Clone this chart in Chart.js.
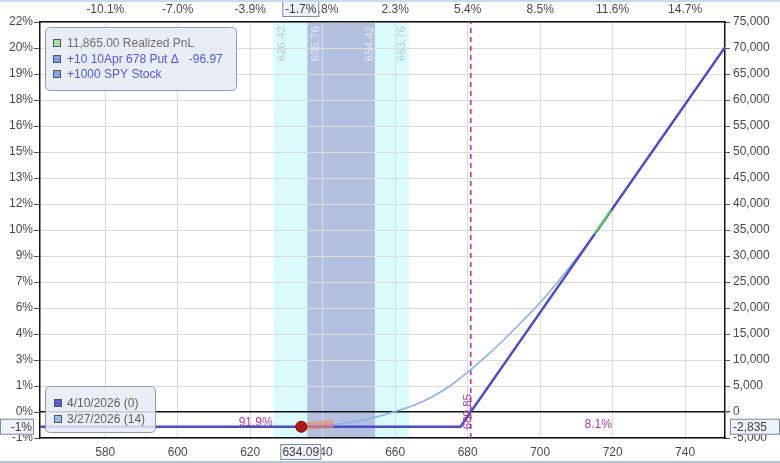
<!DOCTYPE html>
<html>
<head>
<meta charset="utf-8">
<script src="https://cdn.jsdelivr.net/npm/chart.js@4.4.1/dist/chart.umd.min.js"></script>
<style>
html, body { margin: 0; padding: 0; background: #fff; }
#wrap { width: 780px; height: 463px; position: relative; }
</style>
</head>
<body>
<div id="wrap"><canvas id="chart" width="780" height="463"></canvas></div>
<script>
// price axis
const xMin = 562, xMax = 751;
const xTicks = [580, 600, 620, 640, 660, 680, 700, 720, 740];
const topPctLabels = ['-10.1%', '-7.0%', '-3.9%', '-0.8%', '2.3%', '5.4%', '8.5%', '11.6%', '14.7%'];

// pnl axis (-5,000 .. 75,000), left labels are % of capital
const yMin = -5000, yMax = 75000, yStep = 5000;
const leftPctLabels = ['-1%', '0%', '1%', '3%', '4%', '6%', '7%', '9%', '10%', '12%', '13%', '15%', '16%', '18%', '19%', '20%', '22%'];

// 4/10/2026 (0) - expiration
const expPrice = [562, 678, 751];
const expPnl = [-2835, -2835, 70165];

// 3/27/2026 (14)
const t14Price = [562, 600, 620, 630, 635, 640, 645, 650, 655, 660, 665, 670, 675, 680, 685, 690, 695, 700, 705, 710, 715, 720, 730, 740, 751];
const t14Pnl = [-2835, -2835, -2835, -2830, -2780, -2600, -2250, -1700, -900, 100, 1250, 2850, 4950, 7650, 10650, 13900, 17400, 21050, 25150, 29550, 34250, 39230, 49220, 59200, 70190];

// little green realized piece
const greenPrice = [715, 719.5];
const greenPnl = [34300, 38800];

// current position
const currentPrice = 634.09;
const currentPnl = -2835;
const currentPctTop = '-1.7%';
const currentPctLeft = '-1%';
const currentPnlText = '-2,835';
const movePrice = [634.09, 643];
const movePnl = [-2835, -2250];

// std dev bands
const bandOuter = [626.42, 663.76];
const bandInner = [635.76, 654.42];
const breakeven = 680.85;
const probLeft = '91.9%', probLeftAt = 621.5;
const probRight = '8.1%', probRightAt = 716;

const FONT = "'Liberation Sans', Arial, sans-serif";

function pts(xs, ys) {
    return xs.map((x, i) => ({ x: x, y: ys[i] }));
}

function box(ctx, x, y, w, h, text, align) {
    ctx.fillStyle = '#eef3fa';
    ctx.fillRect(x, y, w, h);
    ctx.strokeStyle = '#7d8ca3';
    ctx.lineWidth = 1;
    ctx.strokeRect(x + 0.5, y + 0.5, w - 1, h - 1);
    ctx.fillStyle = '#404040';
    ctx.font = '12px ' + FONT;
    ctx.textBaseline = 'middle';
    ctx.textAlign = align || 'center';
    var tx = align === 'right' ? x + w - 2 : (align === 'left' ? x + 3 : x + w / 2);
    ctx.fillText(text, tx, y + h / 2 + 1);
}

function roundRect(ctx, x, y, w, h, r) {
    ctx.beginPath();
    ctx.moveTo(x + r, y);
    ctx.lineTo(x + w - r, y);
    ctx.quadraticCurveTo(x + w, y, x + w, y + r);
    ctx.lineTo(x + w, y + h - r);
    ctx.quadraticCurveTo(x + w, y + h, x + w - r, y + h);
    ctx.lineTo(x + r, y + h);
    ctx.quadraticCurveTo(x, y + h, x, y + h - r);
    ctx.lineTo(x, y + r);
    ctx.quadraticCurveTo(x, y, x + r, y);
    ctx.closePath();
}

function vText(ctx, text, cx, top, color) {
    ctx.save();
    ctx.translate(cx, top);
    ctx.rotate(-Math.PI / 2);
    ctx.fillStyle = color;
    ctx.font = '11.5px ' + FONT;
    ctx.textAlign = 'right';
    ctx.textBaseline = 'middle';
    ctx.fillText(text, 0, 0);
    ctx.restore();
}

// Bands behind the grid
const bandsPlugin = {
    id: 'bands',
    beforeDraw(chart) {
        const ctx = chart.ctx, a = chart.chartArea, x = chart.scales.x;
        ctx.save();
        ctx.fillStyle = '#fff';
        ctx.fillRect(0, 0, chart.width, chart.height);
        ctx.fillStyle = '#d9fbfb';
        var x1 = x.getPixelForValue(bandOuter[0]), x2 = x.getPixelForValue(bandOuter[1]);
        ctx.fillRect(x1, a.top, x2 - x1, a.bottom - a.top);
        ctx.fillStyle = '#b3c0de';
        x1 = x.getPixelForValue(bandInner[0]); x2 = x.getPixelForValue(bandInner[1]);
        ctx.fillRect(x1, a.top, x2 - x1, a.bottom - a.top);
        ctx.restore();
    }
};

// Texts, boxes and legends on top
const overlayPlugin = {
    id: 'overlay',
    afterDraw(chart) {
        const ctx = chart.ctx, a = chart.chartArea, x = chart.scales.x, y = chart.scales.y;
        ctx.save();

        // band labels
        vText(ctx, bandOuter[0].toFixed(2), x.getPixelForValue(bandOuter[0]) + 8, a.top + 4, '#b0d0dc');
        vText(ctx, bandInner[0].toFixed(2), x.getPixelForValue(bandInner[0]) + 8, a.top + 4, '#e2e8f4');
        vText(ctx, bandInner[1].toFixed(2), x.getPixelForValue(bandInner[1]) - 5, a.top + 4, '#e2e8f4');
        vText(ctx, bandOuter[1].toFixed(2), x.getPixelForValue(bandOuter[1]) - 7, a.top + 4, '#b0d0dc');

        // breakeven label
        vText(ctx, breakeven.toFixed(2), x.getPixelForValue(breakeven) - 3, a.bottom - 44, '#a83aa8');

        // probabilities
        ctx.font = '12px ' + FONT;
        ctx.fillStyle = '#a83aa8';
        ctx.textAlign = 'center';
        ctx.textBaseline = 'middle';
        ctx.fillText(probLeft, x.getPixelForValue(probLeftAt), y.getPixelForValue(currentPnl) - 4);
        ctx.fillText(probRight, x.getPixelForValue(probRightAt), y.getPixelForValue(currentPnl) - 2);

        // legend top
        ctx.fillStyle = 'rgba(230,236,245,0.92)';
        roundRect(ctx, 45.5, 27.5, 191, 63, 5);
        ctx.fill();
        ctx.strokeStyle = '#8f9db2';
        ctx.lineWidth = 1;
        ctx.stroke();
        var rows = [
            { sq: '#9fe39f', txt: '11,865.00 Realized PnL', col: '#6e6e6e', y: 43 },
            { sq: '#7f9fe2', txt: '+10 10Apr 678 Put \u0394   -96.97', col: '#5656f0', y: 59 },
            { sq: '#86a6e0', txt: '+1000 SPY Stock', col: '#5656f0', y: 74 }
        ];
        ctx.font = '12px ' + FONT;
        ctx.textAlign = 'left';
        rows.forEach(function (r) {
            ctx.fillStyle = r.sq;
            ctx.fillRect(53, r.y - 4, 8, 8);
            ctx.strokeStyle = '#4d5566';
            ctx.strokeRect(53.5, r.y - 3.5, 7, 7);
            ctx.fillStyle = r.col;
            ctx.fillText(r.txt, 67, r.y + 1);
        });

        // legend bottom
        ctx.fillStyle = 'rgba(230,236,245,0.85)';
        roundRect(ctx, 45.5, 386.5, 110, 46, 5);
        ctx.fill();
        ctx.strokeStyle = '#8f9db2';
        ctx.stroke();
        var rows2 = [
            { sq: '#5c5cd2', txt: '4/10/2026 (0)', y: 403 },
            { sq: '#9bbaf2', txt: '3/27/2026 (14)', y: 419 }
        ];
        rows2.forEach(function (r) {
            ctx.fillStyle = r.sq;
            ctx.fillRect(54, r.y - 4, 8, 8);
            ctx.strokeStyle = '#4d5566';
            ctx.strokeRect(54.5, r.y - 3.5, 7, 7);
            ctx.fillStyle = '#5e5e5e';
            ctx.fillText(r.txt, 67, r.y + 1);
        });

        // current value boxes
        var cx = x.getPixelForValue(currentPrice), cy = y.getPixelForValue(currentPnl);
        box(ctx, cx - 21, a.bottom + 6, 41, 16, currentPrice.toFixed(2));
        box(ctx, cx - 19, 1, 37, 16, currentPctTop);
        box(ctx, 0, cy - 8, 34, 16, currentPctLeft, 'right');
        box(ctx, a.right + 5, cy - 8, 50, 16, currentPnlText, 'left');

        // frame lines
        ctx.fillStyle = '#c9d9ef';
        ctx.fillRect(0, 0, chart.width, 2);
        ctx.fillStyle = '#b8c6da';
        ctx.fillRect(0, chart.height - 2, chart.width, 2);
        ctx.restore();
    }
};

const tickFont = { family: FONT, size: 12 };

new Chart(document.getElementById('chart'), {
    type: 'line',
    data: {
        datasets: [
            {
                label: 'current',
                data: [{ x: currentPrice, y: currentPnl }],
                showLine: false,
                pointRadius: 5.5,
                pointBackgroundColor: '#b3191b',
                pointBorderColor: '#6e0c0c',
                pointBorderWidth: 1,
                order: 0
            },
            {
                label: 'move',
                data: pts(movePrice, movePnl),
                borderColor: 'rgba(236,140,112,0.65)',
                borderWidth: 8,
                pointRadius: 0,
                order: 1
            },
            {
                label: 'realized',
                data: pts(greenPrice, greenPnl),
                borderColor: '#5ed05e',
                borderWidth: 2,
                pointRadius: 0,
                order: 2
            },
            {
                label: '4/10/2026 (0)',
                data: pts(expPrice, expPnl),
                borderColor: '#4b4bcb',
                borderWidth: 2.4,
                pointRadius: 0,
                order: 3
            },
            {
                label: '3/27/2026 (14)',
                data: pts(t14Price, t14Pnl),
                borderColor: '#8db1f2',
                borderWidth: 1.6,
                pointRadius: 0,
                cubicInterpolationMode: 'monotone',
                order: 4
            },
            {
                label: 'breakeven',
                data: [{ x: breakeven, y: yMin }, { x: breakeven, y: yMax }],
                borderColor: '#b034b0',
                borderWidth: 1.6,
                borderDash: [5, 4],
                pointRadius: 0,
                order: 5
            }
        ]
    },
    options: {
        responsive: false,
        animation: false,
        devicePixelRatio: 1,
        layout: { padding: 0 },
        plugins: { legend: { display: false }, tooltip: { enabled: false } },
        scales: {
            x: {
                type: 'linear', position: 'bottom', min: xMin, max: xMax,
                afterBuildTicks: s => { s.ticks = xTicks.map(v => ({ value: v })); },
                afterFit: s => { s.height = 25; },
                grid: { color: '#dcdcdc', drawTicks: false },
                border: { color: '#111', width: 1.5 },
                ticks: { color: '#4a4a4a', font: tickFont, maxRotation: 0, padding: 7 }
            },
            xTop: {
                type: 'linear', position: 'top', min: xMin, max: xMax,
                afterBuildTicks: s => { s.ticks = xTicks.map(v => ({ value: v })); },
                afterFit: s => { s.height = 22; },
                grid: { drawOnChartArea: false, drawTicks: false },
                border: { color: '#111', width: 1.5 },
                ticks: {
                    color: '#4a4a4a', font: tickFont, maxRotation: 0, padding: 5,
                    callback: v => topPctLabels[xTicks.indexOf(v)]
                }
            },
            y: {
                position: 'right', min: yMin, max: yMax,
                afterFit: s => { s.width = 55; },
                grid: {
                    color: c => (c.tick && c.tick.value === 0) ? '#111' : '#dcdcdc',
                    lineWidth: c => (c.tick && c.tick.value === 0) ? 1.5 : 1,
                    tickColor: '#555', tickLength: 5
                },
                border: { color: '#111', width: 1.5 },
                ticks: {
                    stepSize: yStep, color: '#4a4a4a', font: tickFont, padding: 3,
                    callback: v => v.toLocaleString('en-US')
                }
            },
            yL: {
                position: 'left', min: yMin, max: yMax,
                afterFit: s => { s.width = 40; },
                grid: { drawOnChartArea: false, tickColor: '#555', tickLength: 6 },
                border: { color: '#111', width: 1.5 },
                ticks: {
                    stepSize: yStep, color: '#4a4a4a', font: tickFont, padding: 1,
                    callback: v => leftPctLabels[Math.round((v - yMin) / yStep)]
                }
            }
        }
    },
    plugins: [bandsPlugin, overlayPlugin]
});
</script>
</body>
</html>
